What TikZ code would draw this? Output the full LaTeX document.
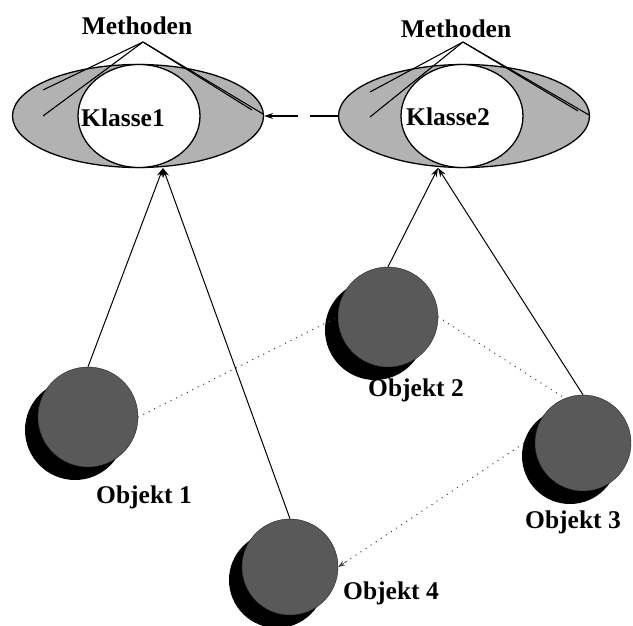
\documentclass[tikz,border=0pt]{standalone}
\usepackage{fontspec}
\setmainfont{Liberation Serif}
\usetikzlibrary{shapes.geometric,arrows.meta,calc}
\begin{document}
\begin{tikzpicture}[x=1pt,y=-1pt,
  lbl/.style={font=\fontsize{25.5}{25.5}\selectfont\bfseries, inner sep=0pt},
  outerell/.style={ellipse, draw, line width=1.3pt, fill=black!30, minimum width=251pt, minimum height=103pt, inner sep=0pt},
  innerell/.style={ellipse, draw, line width=1.3pt, fill=white, minimum width=122pt, minimum height=103pt, inner sep=0pt},
  shadowball/.style={circle, fill=black, minimum size=#1, inner sep=0pt},
  frontball/.style={circle, draw=black!85, fill=black!65, minimum size=#1, inner sep=0pt},
  methline/.style={line width=1.1pt},
  inherit/.style={line width=1pt, -{Stealth[length=9pt,width=6pt]}},
  link/.style={line width=1.4pt, line cap=round, dash pattern=on 0.1pt off 6pt, black!75},
]
\useasboundingbox (0,0) rectangle (633,626);

% Classes
\node[outerell] (k1) at (138,116) {};
\node[innerell] (k1i) at (139,116) {};
\node[lbl] (k1t) at (123,118) {Klasse1};
\node[outerell] (k2) at (464,116) {};
\node[innerell] (k2i) at (462,116) {};
\node[lbl] (k2t) at (448,117) {Klasse2};

% Methoden labels and lines
\node[lbl] (m1) at (137,26) {Methoden};
\node[lbl] (m2) at (456,29) {Methoden};
\coordinate (a1) at (143,42);
\coordinate (a2) at (463,42);
\draw[methline] (a1) -- (43,90);
\draw[methline] (a1) -- (43,116);
\draw[methline] (a1) -- (263,114);
\draw[methline] (a1) -- (252,110);
\draw[methline] (a2) -- (370,92);
\draw[methline] (a2) -- (370,117);
\draw[methline] (a2) -- (589,115);
\draw[methline] (a2) -- (578,111);

% Objects
\node[shadowball=100pt] (o1s) at (75,430) {};
\node[frontball=100pt] (o1) at (88,417) {};
\node[lbl] (o1t) at (144,497) {Objekt 1};

\node[shadowball=100pt] (o2s) at (375,330) {};
\node[frontball=100pt] (o2) at (388,317) {};
\node[lbl] (o2t) at (416,390) {Objekt 2};

\node[shadowball=96pt] (o3s) at (570,456) {};
\node[frontball=96pt] (o3) at (583,443) {};
\node[lbl] (o3t) at (573,522) {Objekt 3};

\node[shadowball=96pt] (o4s) at (277,580) {};
\node[frontball=96pt] (o4) at (290,567) {};
\node[lbl] (o4t) at (391,593) {Objekt 4};

% Inheritance arrows
\coordinate (k1b) at (163,168);
\coordinate (k2b) at (438,168);
\draw[inherit] (o1.north) -- (k1b);
\draw[inherit] (o4.north) -- (k1b);
\draw[inherit] (o2.north) -- (k2b);
\draw[inherit] (o3.north) -- (k2b);

% Class to class
\draw[line width=1.2pt, dash pattern=on 28pt off 12pt on 60pt, -{Stealth[length=9pt,width=6pt]}] (k2.west) -- (k1.east);

% Object links
\draw[link] (o1.east) -- (o2.west);
\draw[link] (o2.east) -- (o3.112);
\draw[link] (o3s.165) -- (o4.east);
\coordinate (o4in) at ($(o4.east)!0.05!(o3s.165)$);
\draw[black!75, -{Stealth[length=7pt,width=5pt]}] (o4in) -- (o4.east);
\end{tikzpicture}
\end{document}
